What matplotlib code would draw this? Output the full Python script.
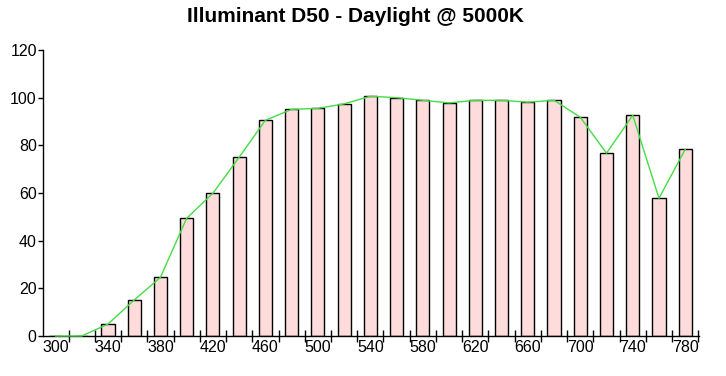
import matplotlib
matplotlib.use("Agg")
import matplotlib.pyplot as plt

wavelengths = [300, 320, 340, 360, 380, 400, 420, 440, 460, 480, 500, 520, 540,
               560, 580, 600, 620, 640, 660, 680, 700, 720, 740, 760, 780]
values = [0, 0, 5.0, 15.1, 24.6, 49.4, 59.9, 75.0, 90.5, 95.1, 95.5, 97.4, 100.6,
          100.0, 98.9, 97.8, 98.9, 98.9, 98.1, 98.9, 91.8, 76.7, 92.6, 57.8, 78.3]
x_tick_labels = [300, 340, 380, 420, 460, 500, 540, 580, 620, 660, 700, 740, 780]
y_ticks = [0, 20, 40, 60, 80, 100, 120]
title = "Illuminant D50 - Daylight @ 5000K"

plt.rcParams['font.family'] = ['Liberation Sans', 'DejaVu Sans']

fig = plt.figure(figsize=(7.26, 3.76), dpi=100)
ax = fig.add_axes([43/726, 1 - 336/376, (699-43)/726, (336-50)/376])

ax.bar(wavelengths, values, width=10, color='#ffdcdc', edgecolor='black',
       linewidth=1.0, zorder=2)
ax.plot(wavelengths, values, color='#44dd44', linewidth=1.0, zorder=4,
        clip_on=False)

ax.set_xlim(290.5, 790.5)
ax.set_ylim(0, 120)
ax.set_yticks(y_ticks)
ax.set_yticklabels([str(v) for v in y_ticks], fontsize=11.5)
ax.set_xticks(x_tick_labels)
ax.set_xticklabels([str(v) for v in x_tick_labels], fontsize=11.5)
ax.tick_params(axis='x', length=0, pad=3)
# boundary ticks crossing the x axis
ax.set_xticks([w + 10 for w in wavelengths], minor=True)
ax.tick_params(axis='x', which='minor', direction='inout', length=8, width=1)
ax.tick_params(axis='y', direction='out', length=3.5, width=1, pad=1)

for s in ['top', 'right']:
    ax.spines[s].set_visible(False)
for s in ['left', 'bottom']:
    ax.spines[s].set_linewidth(1)

fig.text(355/726, 1 - 21.5/376, title, ha='center', va='baseline',
         fontsize=15, fontweight='bold')

fig.savefig("out.png", dpi=100)
